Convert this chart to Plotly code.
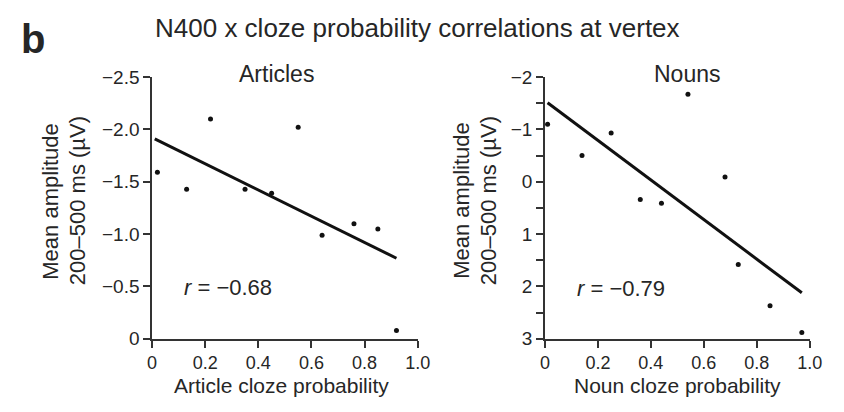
import plotly.graph_objects as go

# Articles: cloze probability vs. mean N400 amplitude (µV)
art_x = [0.02, 0.13, 0.22, 0.35, 0.45, 0.55, 0.64, 0.76, 0.85, 0.92]
art_y = [-1.59, -1.43, -2.10, -1.43, -1.39, -2.02, -0.99, -1.10, -1.05, -0.08]
art_fit_x = [0.01, 0.92]
art_fit_y = [-1.91, -0.77]
art_r = "−0.68"

# Nouns: cloze probability vs. mean N400 amplitude (µV)
noun_x = [0.01, 0.14, 0.25, 0.36, 0.44, 0.54, 0.68, 0.73, 0.85, 0.97]
noun_y = [-1.10, -0.50, -0.93, 0.34, 0.41, -1.67, -0.09, 1.58, 2.37, 2.88]
noun_fit_x = [0.01, 0.97]
noun_fit_y = [-1.51, 2.12]
noun_r = "−0.79"

# Tick positions and labels
x_ticks = [0, 0.2, 0.4, 0.6, 0.8, 1.0]
x_ticklabels = ["0", "0.2", "0.4", "0.6", "0.8", "1.0"]
art_y_ticks = [-2.5, -2.0, -1.5, -1.0, -0.5, 0]
art_y_ticklabels = ["−2.5", "−2.0", "−1.5", "−1.0", "−0.5", "0"]
noun_y_ticks = [-2, -1.5, -1, -0.5, 0, 0.5, 1, 1.5, 2, 2.5, 3]
noun_y_ticklabels = ["−2", "", "−1", "", "0", "", "1", "", "2", "", "3"]

FONT = "Liberation Sans, Arial, sans-serif"
TEXT = "#262626"
AXIS = "#333333"
W, H = 844, 412

fig = go.Figure()

fig.add_trace(go.Scatter(x=art_x, y=art_y, mode="markers",
                         marker=dict(size=5, color="#111111"),
                         xaxis="x", yaxis="y", showlegend=False))
fig.add_trace(go.Scatter(x=art_fit_x, y=art_fit_y, mode="lines",
                         line=dict(color="#111111", width=3),
                         xaxis="x", yaxis="y", showlegend=False))
fig.add_trace(go.Scatter(x=noun_x, y=noun_y, mode="markers",
                         marker=dict(size=5, color="#111111"),
                         xaxis="x2", yaxis="y2", showlegend=False))
fig.add_trace(go.Scatter(x=noun_fit_x, y=noun_fit_y, mode="lines",
                         line=dict(color="#111111", width=3),
                         xaxis="x2", yaxis="y2", showlegend=False))


def px_x(v):
    return v / W


def px_y(v):
    return 1 - v / H


axis_common = dict(showgrid=False, zeroline=False, showline=True,
                   linecolor=AXIS, linewidth=1.5, ticks="outside",
                   ticklen=7, tickwidth=1.5, tickcolor=AXIS,
                   tickfont=dict(family=FONT, size=19, color=TEXT),
                   tickmode="array", fixedrange=True)

x_tickfont = dict(family=FONT, size=18, color=TEXT)
y_dom = [px_y(346.5), px_y(70.7)]

fig.update_layout(
    width=W, height=H,
    margin=dict(l=0, r=0, t=0, b=0),
    paper_bgcolor="white", plot_bgcolor="white",
    xaxis=dict(axis_common, domain=[px_x(150.3), px_x(421.7)],
               range=[0, 1.0], tickvals=x_ticks, ticktext=x_ticklabels,
               tickfont=x_tickfont, ticklabelstandoff=0, anchor="y"),
    yaxis=dict(axis_common, domain=y_dom, range=[0, -2.5],
               tickvals=art_y_ticks, ticktext=art_y_ticklabels,
               anchor="x"),
    xaxis2=dict(axis_common, domain=[px_x(551.7), px_x(822.3)],
                range=[0, 1.0], tickvals=x_ticks, ticktext=x_ticklabels,
                tickfont=x_tickfont, ticklabelstandoff=0, anchor="y2"),
    yaxis2=dict(axis_common, domain=y_dom, range=[3, -2],
                tickvals=noun_y_ticks, ticktext=noun_y_ticklabels,
                anchor="x2"),
)


def note(text, x, y, size, angle=0, bold=False, xanchor="center"):
    fig.add_annotation(
        text=f"<b>{text}</b>" if bold else text,
        x=px_x(x), y=px_y(y), xref="paper", yref="paper",
        xanchor=xanchor, yanchor="middle", showarrow=False,
        textangle=angle, borderpad=0,
        font=dict(family=FONT, size=size, color=TEXT))


# Panel letter and figure title
note("b", 15, 31, 40, bold=True, xanchor="left")
note("N400 x cloze probability correlations at vertex", 421.5, 19, 26)

# Panel titles
note("Articles", 277.5, 67, 23)
note("Nouns", 696.7, 67, 23)

# Correlation coefficients
note(f"<i>r</i> = {art_r}", 227.5, 292, 22)
note(f"<i>r</i> = {noun_r}", 629, 293, 22)

# Axis titles
note("Article cloze probability", 282.5, 396, 21)
note("Noun cloze probability", 687.5, 396, 21)
for x1, x2 in [(47, 74), (467, 494)]:
    note("Mean amplitude", x1, 201, 22, angle=-90)
    note("200–500 ms (µV)", x2, 201, 22, angle=-90)

fig.write_html("out.html")
